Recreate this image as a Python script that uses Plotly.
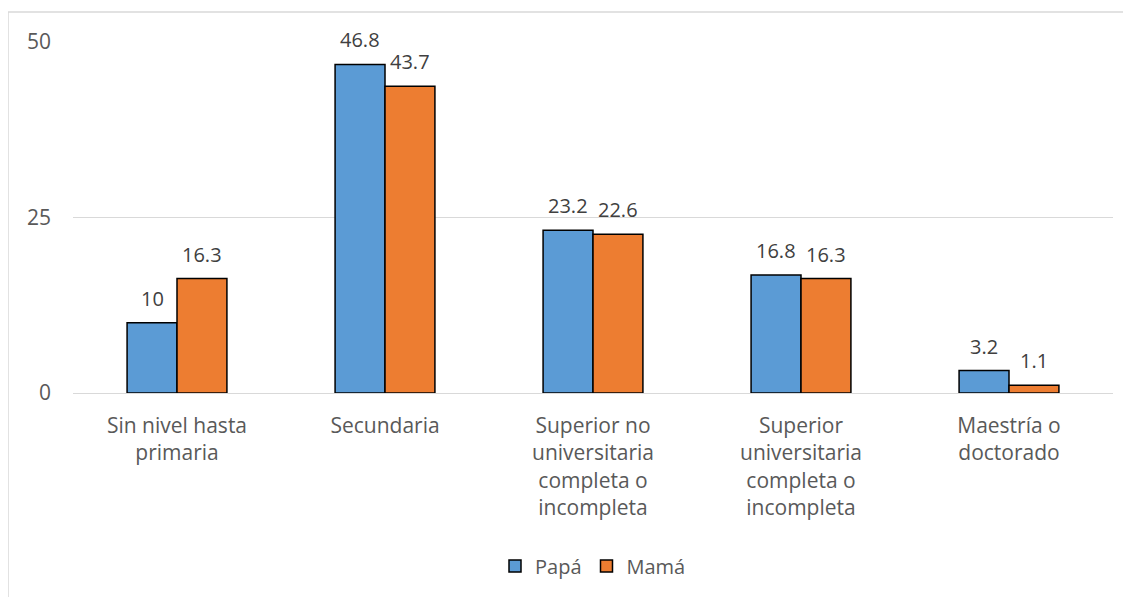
import plotly.graph_objects as go

categories = ["Sin nivel hasta<br>primaria", "Secundaria",
              "Superior no<br>universitaria<br>completa o<br>incompleta",
              "Superior<br>universitaria<br>completa o<br>incompleta",
              "Maestría o<br>doctorado"]
papa = [10, 46.8, 23.2, 16.8, 3.2]
mama = [16.3, 43.7, 22.6, 16.3, 1.1]
papa_labels = ["10", "46.8", "23.2", "16.8", "3.2"]
mama_labels = ["16.3", "43.7", "22.6", "16.3", "1.1"]
y_ticks = [0, 25, 50]

FONT = "Open Sans"
GRAY = "#595959"
LABEL = "#404040"

fig = go.Figure()
fig.add_trace(go.Bar(name="Papá", x=categories, y=papa,
                     marker=dict(color="#5B9BD5", line=dict(color="black", width=1.5))))
fig.add_trace(go.Bar(name="Mamá", x=categories, y=mama,
                     marker=dict(color="#ED7D31", line=dict(color="black", width=1.5))))

# data labels, anchored at each bar's value
for vals, labs, shift in ((papa, papa_labels, -25), (mama, mama_labels, 25)):
    for c, v, t in zip(categories, vals, labs):
        fig.add_annotation(x=c, y=v, xref="x", yref="y", text=t, showarrow=False,
                           xshift=shift, yshift=9, yanchor="bottom",
                           font=dict(size=20, color=LABEL, family=FONT))

# page body adds 8px offset
L, R, T, B = 65, 26, 34, 212
W, H = 1131, 597
pw, ph = W - L - R, H - T - B
OFF = 8

fig.update_layout(
    width=W, height=H,
    margin=dict(l=L, r=R, t=T, b=B),
    paper_bgcolor="white", plot_bgcolor="white",
    barmode="group", bargap=0.52, bargroupgap=0,
    font=dict(family=FONT, size=20, color=GRAY),
    showlegend=True,
    legend=dict(orientation="h", x=0.5, xanchor="center", y=(393 - 566) / ph, yanchor="middle",
                font=dict(size=20, color=GRAY), itemwidth=30, traceorder="normal"),
    xaxis=dict(showline=False, ticks="", tickfont=dict(size=21, color=GRAY),
               ticklabelstandoff=18),
    yaxis=dict(range=[0, 50], tickvals=y_ticks, showgrid=True, gridcolor="#D9D9D9",
               gridwidth=1, zeroline=True, zerolinecolor="#D9D9D9", zerolinewidth=1,
               showline=False, ticks="", tickfont=dict(size=21, color=GRAY),
               ticklabelstandoff=21),
)

fig.add_shape(type="rect", xref="paper", yref="paper",
              x0=(8 - (L + OFF)) / pw, x1=(W + 20 - (L + OFF)) / pw,
              y0=(393 - (H + 20)) / ph, y1=(393 - 12) / ph,
              line=dict(color="#D9D9D9", width=1.5), fillcolor="rgba(0,0,0,0)", layer="below")

fig.write_html("out.html")
